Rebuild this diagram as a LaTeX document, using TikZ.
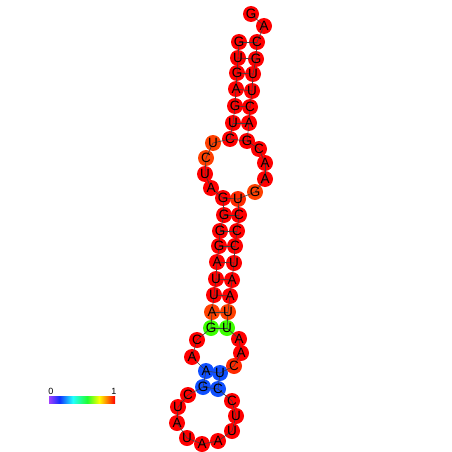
\documentclass[tikz,border=0pt]{standalone}
\usepackage{fontspec}
\setmainfont{Liberation Sans}
\definecolor{cR}{HTML}{FF0000}
\definecolor{cO}{HTML}{FF4000}
\definecolor{cP}{HTML}{FF2A00}
\definecolor{cG}{HTML}{3CFF00}
\definecolor{cB}{HTML}{1050FF}
\definecolor{b0}{HTML}{A040FF}
\definecolor{b1}{HTML}{1030FF}
\definecolor{b2}{HTML}{20FFFF}
\definecolor{b3}{HTML}{20FF30}
\definecolor{b4}{HTML}{FFFF00}
\definecolor{b5}{HTML}{FF8000}
\definecolor{b6}{HTML}{FF0000}
\pgfdeclarehorizontalshading{rainbowbar}{100bp}{color(0bp)=(b0); color(25bp)=(b0); color(33bp)=(b1); color(43bp)=(b2); color(54bp)=(b3); color(63bp)=(b4); color(69bp)=(b5); color(75bp)=(b6); color(100bp)=(b6)}
\tikzset{
  base/.style={circle, minimum size=16pt, inner sep=0pt, draw=none},
  lab/.style={inner sep=0pt, font=\fontsize{13.5}{13.5}\selectfont, text=black},
  bb/.style={draw=black!75, line width=0.6pt},
  bar/.style={font=\fontsize{9}{9}\selectfont, inner sep=0pt}
}
\begin{document}
\begin{tikzpicture}[x=1pt,y=-1pt]
\useasboundingbox[fill=white] (0,0) rectangle (452,452);
\newcommand\basedata{1/239/42/G/cR, 2/238/58/U/cR, 3/237/73/G/cR, 4/236/89/A/cR, 5/235/106/G/cR, 6/233/123/U/cR, 7/230/139/C/cR, 8/213/143/U/cO, 9/206/158/C/cO, 10/205/174/U/cR, 11/211/188/A/cR, 12/223/198/G/cR, 13/224/215/G/cR, 14/220/231/G/cR, 15/219/246/G/cR, 16/217/262/A/cR, 17/216/279/U/cR, 18/214/295/U/cR, 19/212/312/A/cO, 20/211/328/G/cG, 21/197/340/C/cR, 22/192/357/A/cR, 23/206/371/A/cB, 24/203/387/G/cB, 25/188/395/C/cR, 26/178/407/U/cR, 27/177/423/A/cR, 28/187/438/U/cR, 29/202/444/A/cR, 30/218/441/A/cR, 31/232/431/U/cR, 32/236/416/U/cR, 33/232/401/C/cR, 34/218/389/C/cB, 35/220/373/U/cB, 36/234/366/C/cP, 37/241/353/A/cR, 38/239/339/A/cR, 39/227/328/U/cG, 40/228/312/U/cO, 41/230/296/A/cR, 42/232/280/A/cR, 43/234/263/U/cR, 44/235/246/C/cR, 45/237/231/C/cR, 46/239/215/C/cR, 47/238/199/U/cP, 48/255/192/G/cO, 49/265/179/A/cR, 50/265/163/A/cR, 51/259/149/C/cR, 52/247/141/G/cR, 53/249/123/A/cR, 54/250/107/C/cR, 55/252/91/U/cR, 56/253/74/U/cR, 57/256/59/G/cR, 58/257/42/C/cR, 59/264/26/A/cR, 60/251/14/G/cR}
% circles
\foreach \i/\x/\y/\l/\c in \basedata { \node[base, fill=\c] (n\i) at (\x,\y) {}; }
% backbone
\foreach \i [evaluate=\i as \j using int(\i+1)] in {1,...,59} { \draw[bb] (n\i.center) -- (n\j.center); }
% base pairs
\foreach \a/\b in {1/58,2/57,3/56,4/55,5/54,6/53,7/52,12/47,13/46,14/45,15/44,16/43,17/42,18/41,19/40,20/39,23/35,24/34} { \draw[bb] (n\a.center) -- (n\b.center); }
% letters
\foreach \i/\x/\y/\l/\c in \basedata { \node[lab] (t\i) at (n\i) {\l}; }
% colour bar
\shade[shading=rainbowbar] (49,396.5) rectangle (115,403);
\node[bar] (zero) at (51,391.5) {0};
\node[bar] (one) at (114,391.5) {1};
\end{tikzpicture}
\end{document}
